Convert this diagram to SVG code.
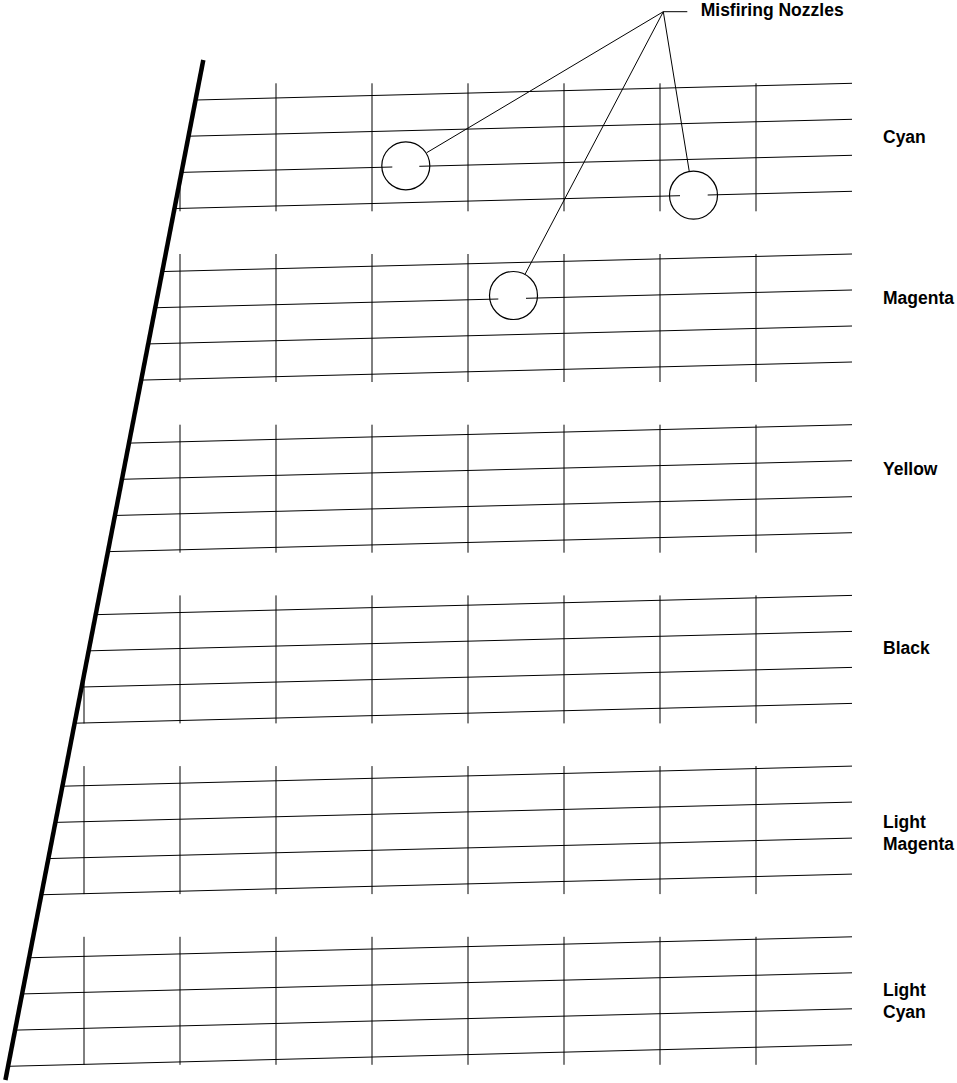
<svg xmlns="http://www.w3.org/2000/svg" width="957" height="1083" viewBox="0 0 957 1083">
<style>
.ln{stroke:#000;stroke-width:1;fill:none}
.tk{stroke:#000;stroke-width:1;fill:none}
.lbl{font-family:"Liberation Sans",Arial,sans-serif;font-weight:bold;font-size:17.5px;fill:#000}
.ring{stroke:#000;stroke-width:1.2;fill:none}
</style>
<defs>
<clipPath id="right">
<polygon points="214.9,0 957,0 957,1083 4.8,1083"/>
</clipPath>
</defs>
<rect width="957" height="1083" fill="#fff"/>
<g id="band-cyan" clip-path="url(#right)">
<path class="ln" d="M0,105 L852,83.3 M0,141 L852,119.3 M0,177 L392.3,167 M419.3,166.3 L852,155.3 M0,213 L680,195.7 M707.7,195 L852,191.3"/>
<path class="tk" d="M84,83.3V211.3 M180,83.3V211.3 M276,83.3V211.3 M372,83.3V211.3 M468,83.3V211.3 M564,83.3V211.3 M660,83.3V211.3 M756,83.3V211.3"/>
<text class="lbl" x="883" y="143.3">Cyan</text>
</g>
<g id="band-magenta" clip-path="url(#right)">
<path class="ln" d="M0,275.7 L852,254 M0,311.7 L498.3,299 M526,298.3 L852,290 M0,347.7 L852,326 M0,383.7 L852,362"/>
<path class="tk" d="M84,254V382 M180,254V382 M276,254V382 M372,254V382 M468,254V382 M564,254V382 M660,254V382 M756,254V382"/>
<text class="lbl" x="883" y="304">Magenta</text>
</g>
<g id="band-yellow" clip-path="url(#right)">
<path class="ln" d="M0,446.4 L852,424.7 M0,482.4 L852,460.7 M0,518.4 L852,496.7 M0,554.4 L852,532.7"/>
<path class="tk" d="M84,424.7V552.7 M180,424.7V552.7 M276,424.7V552.7 M372,424.7V552.7 M468,424.7V552.7 M564,424.7V552.7 M660,424.7V552.7 M756,424.7V552.7"/>
<text class="lbl" x="883" y="474.5">Yellow</text>
</g>
<g id="band-black" clip-path="url(#right)">
<path class="ln" d="M0,617.1 L852,595.4 M0,653.1 L852,631.4 M0,689.1 L852,667.4 M0,725.1 L852,703.4"/>
<path class="tk" d="M84,595.4V723.4 M180,595.4V723.4 M276,595.4V723.4 M372,595.4V723.4 M468,595.4V723.4 M564,595.4V723.4 M660,595.4V723.4 M756,595.4V723.4"/>
<text class="lbl" x="883" y="654">Black</text>
</g>
<g id="band-light-magenta" clip-path="url(#right)">
<path class="ln" d="M0,787.8 L852,766.1 M0,823.8 L852,802.1 M0,859.8 L852,838.1 M0,895.8 L852,874.1"/>
<path class="tk" d="M84,766.1V894.1 M180,766.1V894.1 M276,766.1V894.1 M372,766.1V894.1 M468,766.1V894.1 M564,766.1V894.1 M660,766.1V894.1 M756,766.1V894.1"/>
<text class="lbl" x="883" y="828.3">Light</text>
<text class="lbl" x="883" y="850">Magenta</text>
</g>
<g id="band-light-cyan" clip-path="url(#right)">
<path class="ln" d="M0,958.5 L852,936.8 M0,994.5 L852,972.8 M0,1030.5 L852,1008.8 M0,1066.5 L852,1044.8"/>
<path class="tk" d="M84,936.8V1064.8 M180,936.8V1064.8 M276,936.8V1064.8 M372,936.8V1064.8 M468,936.8V1064.8 M564,936.8V1064.8 M660,936.8V1064.8 M756,936.8V1064.8"/>
<text class="lbl" x="883" y="996">Light</text>
<text class="lbl" x="883" y="1018.3">Cyan</text>
</g>
<g id="head-edge">
<line x1="203.3" y1="60" x2="5.4" y2="1080" stroke="#000" stroke-width="4.5"/>
</g>
<g id="nozzle-1"><circle class="ring" cx="405.8" cy="165.8" r="24"/></g>
<g id="nozzle-2"><circle class="ring" cx="693.5" cy="195.2" r="24"/></g>
<g id="nozzle-3"><circle class="ring" cx="513.5" cy="295.5" r="24"/></g>
<g id="callout">
<path class="ln" d="M426.7,152.7 L663.3,11.7 M525,274.3 L663.3,11.7 M689.3,171.7 L663.3,11.7 M663.3,11.7 L687.3,11.7"/>
<text class="lbl" x="700.7" y="16">Misfiring Nozzles</text>
</g>
</svg>
